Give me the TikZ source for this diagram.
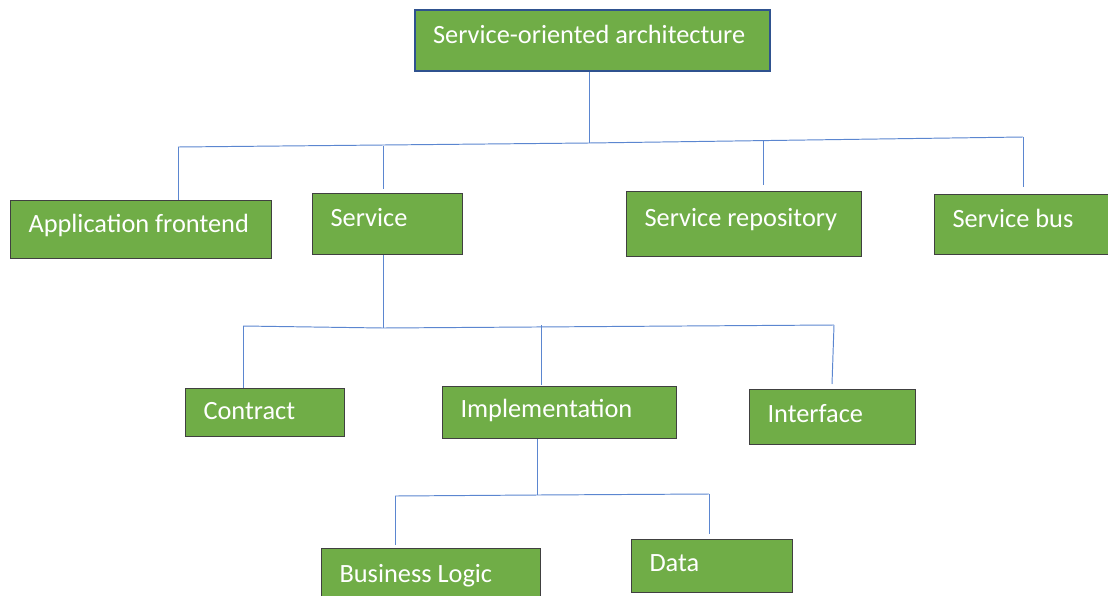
\documentclass[tikz,border=0pt]{standalone}
\usepackage{fontspec}
\setmainfont{Carlito}

\definecolor{soagreen}{HTML}{70AD47}
\definecolor{linkblue}{HTML}{5B86D0}
\definecolor{rootblue}{HTML}{2F528F}

\tikzset{
  part/.style={draw=black!75, line width=0.6pt, fill=soagreen, text=white,
    font=\fontsize{15}{17}\selectfont, anchor=north west, align=flush left,
    inner xsep=0.36cm, text height=0.75em, text depth=0.15em},
  upper/.style={text depth=0.45em},
  lower/.style={text height=0.85em, text depth=0em},
  link/.style={linkblue, line width=0.55pt},
}

\begin{document}
\begin{tikzpicture}[x=0.02cm, y=-0.02cm]
    \useasboundingbox (0,0) rectangle (1108,595);

    % boxes, placed by their top left corner
    \node[part, upper, draw=rootblue, line width=1.2pt, text width=6.38cm, minimum height=1.22cm] (root) at (414,9) {Service-oriented architecture};

    \node[part, upper, text width=4.50cm, minimum height=1.16cm] (app) at (10,200) {Application frontend};
    \node[part, upper, text width=2.28cm, minimum height=1.22cm] (service) at (312,193) {Service};
    \node[part, upper, text width=3.98cm, minimum height=1.30cm] (repo) at (626,191) {Service repository};
    \node[part, upper, text width=3.30cm, minimum height=1.20cm] (bus) at (934,194) {Service bus};

    \node[part, lower, text width=2.46cm, minimum height=0.96cm] (contract) at (185,388) {Contract};
    \node[part, text width=3.96cm, minimum height=1.04cm] (impl) at (442,386) {Implementation};
    \node[part, text width=2.60cm, minimum height=1.10cm] (iface) at (749,389) {Interface};

    \node[part, text width=3.66cm, minimum height=1.16cm] (logic) at (321,548) {Business Logic};
    \node[part, text width=2.50cm, minimum height=1.06cm] (data) at (631,539) {Data};

    % first level
    \coordinate (j1) at (589,143);
    \coordinate (a1) at (178,147);
    \coordinate (b1) at (383,146);
    \coordinate (c1) at (763,140);
    \coordinate (d1) at (1023,137);
    \coordinate (b1e) at (383,189);
    \coordinate (c1e) at (763,185);
    \coordinate (d1e) at (1023,187);

    \draw[link] (root.south -| j1) -- (j1);
    \draw[link] (a1) -- (j1) -- (d1);
    \draw[link] (a1) -- (app.north -| a1);
    \draw[link] (b1) -- (b1e);
    \draw[link] (c1) -- (c1e);
    \draw[link] (d1) -- (d1e);

    % second level
    \coordinate (j2) at (383,328);
    \coordinate (a2) at (243,326);
    \coordinate (b2) at (541,325);
    \coordinate (c2) at (834,325);
    \coordinate (b2e) at (541,385);
    \coordinate (c2e) at (832,384);

    \draw[link] (service.south -| j2) -- (j2);
    \draw[link] (a2) -- (j2) -- (c2);
    \draw[link] (a2) -- (contract.north -| a2);
    \draw[link] (b2) -- (b2e);
    \draw[link] (c2) -- (c2e);

    % third level
    \coordinate (j3) at (537,495);
    \coordinate (a3) at (395,496);
    \coordinate (b3) at (709,494);
    \coordinate (a3e) at (395,545);
    \coordinate (b3e) at (709,534);

    \draw[link] (impl.south -| j3) -- (j3);
    \draw[link] (a3) -- (j3) -- (b3);
    \draw[link] (a3) -- (a3e);
    \draw[link] (b3) -- (b3e);
\end{tikzpicture}
\end{document}
